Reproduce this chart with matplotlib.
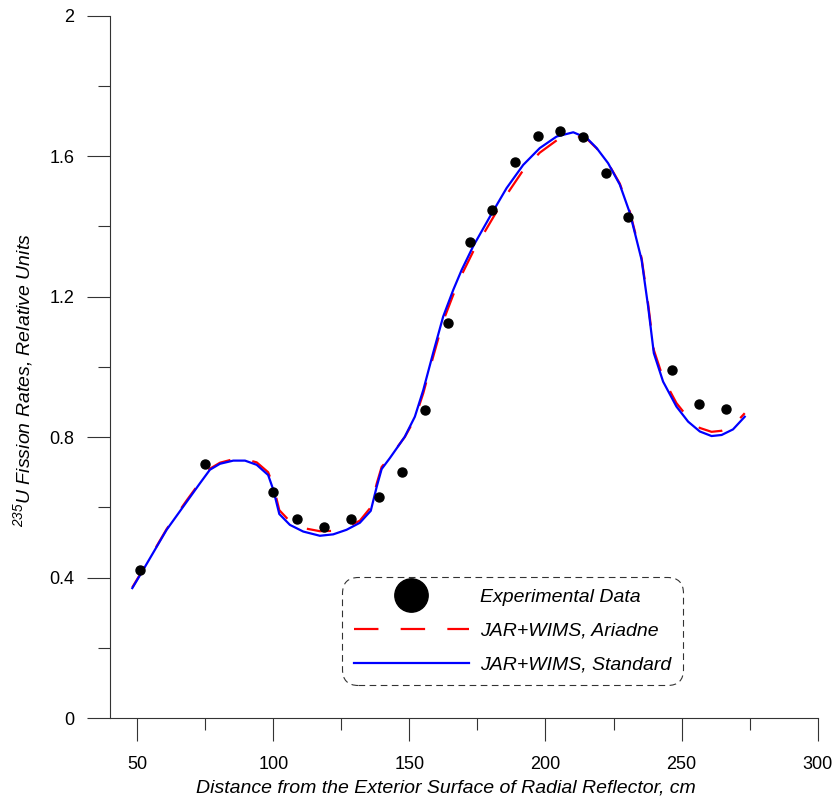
import matplotlib
matplotlib.use('Agg')
import matplotlib.pyplot as plt
from matplotlib.lines import Line2D
from matplotlib.ticker import MultipleLocator, FuncFormatter

plt.rcParams['font.family'] = ['Liberation Sans', 'DejaVu Sans']
plt.rcParams['mathtext.default'] = 'regular'

# experimental points
exp_x = [50.9, 75.0, 99.9, 108.6, 118.6, 128.6, 138.8, 147.2, 155.6, 164.1,
         172.3, 180.4, 188.8, 197.2, 205.5, 213.8, 222.1, 230.4, 246.4, 256.5, 266.4]
exp_y = [0.422, 0.724, 0.644, 0.567, 0.545, 0.568, 0.630, 0.701, 0.877, 1.125,
         1.356, 1.447, 1.583, 1.657, 1.672, 1.655, 1.551, 1.427, 0.991, 0.894, 0.880]

# calculated curves
calc_x = [48.2, 52.2, 60.8, 68.2, 73.1, 76.7, 80.4, 85.3, 89.6, 93.9,
          98.1, 100.0, 102.2, 106.1, 111.0, 117.1, 122.0, 126.9, 131.8, 135.8,
          138.0, 139.8, 142.8, 147.5, 148.3, 152.0, 155.1, 158.7, 162.4, 166.1,
          169.2, 173.4, 179.6, 185.7, 191.8, 197.9, 204.1, 210.2, 215.1, 218.8,
          223.0, 227.3, 231.0, 235.3, 237.7, 239.8, 243.2, 248.1, 252.4, 256.7,
          261.0, 264.7, 268.9, 273.2]
standard = [0.370, 0.422, 0.536, 0.616, 0.669, 0.707, 0.724, 0.733, 0.733, 0.721,
            0.692, 0.650, 0.581, 0.550, 0.531, 0.519, 0.523, 0.536, 0.556, 0.590,
            0.659, 0.709, 0.740, 0.792, 0.801, 0.858, 0.934, 1.039, 1.143, 1.219,
            1.276, 1.343, 1.428, 1.509, 1.575, 1.623, 1.656, 1.668, 1.652, 1.623,
            1.580, 1.519, 1.438, 1.305, 1.172, 1.039, 0.958, 0.887, 0.844, 0.816,
            0.803, 0.806, 0.822, 0.858]
ariadne = [0.372, 0.424, 0.538, 0.620, 0.672, 0.710, 0.727, 0.737, 0.737, 0.728,
           0.700, 0.662, 0.592, 0.560, 0.541, 0.532, 0.533, 0.543, 0.562, 0.600,
           0.668, 0.715, 0.742, 0.792, 0.800, 0.852, 0.925, 1.028, 1.130, 1.205,
           1.262, 1.328, 1.410, 1.490, 1.560, 1.610, 1.645, 1.660, 1.650, 1.622,
           1.580, 1.522, 1.442, 1.310, 1.180, 1.048, 0.968, 0.897, 0.855, 0.826,
           0.815, 0.818, 0.832, 0.868]

fig = plt.figure(figsize=(8.39, 8.01), dpi=100)
ax = fig.add_axes([0.1311, 0.1036, 0.8435, 0.8768])

ax.plot(calc_x, ariadne, color='red', lw=1.6, dashes=(11, 10))
ax.plot(calc_x, standard, color='blue', lw=1.6)
ax.plot(exp_x, exp_y, 'o', color='black', ms=6.5, zorder=5)

ax.set_xlim(40, 300)
ax.set_ylim(0, 2)
ax.spines['top'].set_visible(False)
ax.spines['right'].set_visible(False)
for s in ('left', 'bottom'):
    ax.spines[s].set_linewidth(0.8)
    ax.spines[s].set_color('#333333')

ax.xaxis.set_major_locator(MultipleLocator(50))
ax.xaxis.set_minor_locator(MultipleLocator(25))
ax.yaxis.set_major_locator(MultipleLocator(0.4))
ax.yaxis.set_minor_locator(MultipleLocator(0.2))
ax.yaxis.set_major_formatter(FuncFormatter(lambda v, p: '{:g}'.format(round(v, 2))))
ax.set_xticks([50, 100, 150, 200, 250, 300])
ax.tick_params(which='major', direction='out', length=16.5, width=0.8,
               color='#333333', labelsize=13)
ax.tick_params(axis='x', which='major', pad=11)
ax.tick_params(axis='y', which='major', pad=9)
ax.tick_params(which='minor', direction='out', length=8.5, width=0.8, color='#333333')

ax.set_xlabel('Distance from the Exterior Surface of Radial Reflector, cm',
              fontsize=14, style='italic')
ax.xaxis.set_label_coords(0.475, -0.087)
ax.set_ylabel('$^{235}$U Fission Rates, Relative Units',
              fontsize=14, style='italic')
ax.yaxis.set_label_coords(-0.106, 0.481)

handles = [
    Line2D([], [], marker='o', color='black', ls='none', ms=24),
    Line2D([], [], color='red', lw=1.6, dashes=(11, 10)),
    Line2D([], [], color='blue', lw=1.6),
]
labels = ['Experimental Data', 'JAR+WIMS, Ariadne', 'JAR+WIMS, Standard']
leg = ax.legend(handles, labels, loc='lower left', bbox_to_anchor=(0.328, 0.047),
                borderaxespad=0, frameon=True, fancybox=True,
                prop={'size': 14, 'style': 'italic'}, handlelength=5.9,
                handletextpad=0.57, labelspacing=0.82, borderpad=0.6)
frame = leg.get_frame()
frame.set_edgecolor('black')
frame.set_linewidth(0.8)
frame.set_linestyle((0, (6, 4)))
frame.set_boxstyle('round,pad=0,rounding_size=0.8')

fig.savefig('out.png', dpi=100)
